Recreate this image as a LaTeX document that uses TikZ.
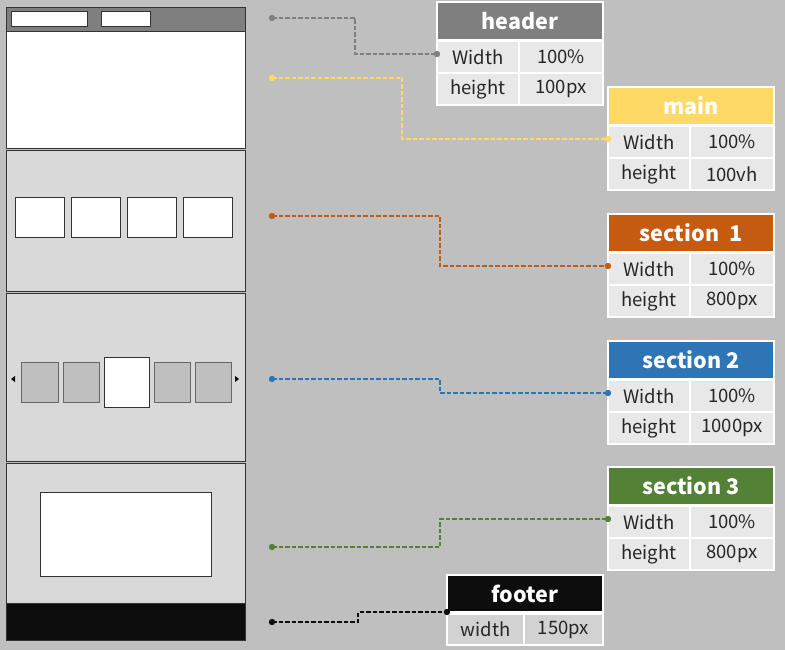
\documentclass[tikz,border=0pt]{standalone}
\usepackage{fontspec}
\setmainfont{Noto Sans CJK KR}
\usetikzlibrary{positioning}
\definecolor{bggray}{HTML}{BFBFBF}
\definecolor{hdgray}{HTML}{7F7F7F}
\definecolor{mainyellow}{HTML}{FFD966}
\definecolor{secorange}{HTML}{C55A11}
\definecolor{secblue}{HTML}{2E75B6}
\definecolor{secgreen}{HTML}{538135}
\definecolor{ftblack}{HTML}{0D0D0D}
\definecolor{cellgray}{HTML}{E8E8E8}
\definecolor{ftcell}{HTML}{D2D2D2}
\definecolor{secfill}{HTML}{D9D9D9}
\definecolor{slide}{HTML}{BFBFBF}
\begin{document}
\begin{tikzpicture}[x=1pt,y=-1pt,
    wire/.style={draw=black!80,line width=1pt},
    tabtitle/.style={draw=white,line width=1.2pt,outer sep=0pt,inner sep=0pt,
      minimum width=166pt,minimum height=38pt,text=white,font=\fontsize{21.5}{24}\selectfont\bfseries},
    tabcell/.style={draw=white,line width=1.2pt,outer sep=0pt,inner sep=0pt,fill=cellgray,
      minimum height=32pt,text=black!85,font=\fontsize{18.5}{20}\selectfont},
    keycell/.style={tabcell,minimum width=82pt},
    valcell/.style={tabcell,minimum width=84pt},
    link/.style={dashed,dash pattern=on 4.5pt off 2pt,line width=1.7pt},
    dot/.style={radius=3.2pt}]
  \useasboundingbox[fill=bggray] (0,0) rectangle (785,650);
  % Page mock-up
  \draw[wire,fill=hdgray] (6,8) rectangle (245,32);
  \draw[wire,fill=white] (11,12) rectangle (87,27);
  \draw[wire,fill=white] (101,12) rectangle (150,27);
  \draw[wire,fill=white] (6,32) rectangle (245,149);
  \draw[wire,fill=secfill] (6,151) rectangle (245,291);
  \draw[wire,fill=white] (15,198) rectangle (64,237);
  \draw[wire,fill=white] (71,198) rectangle (120,237);
  \draw[wire,fill=white] (127,198) rectangle (176,237);
  \draw[wire,fill=white] (183,198) rectangle (232,237);
  \draw[wire,fill=secfill] (6,293) rectangle (245,461);
  \draw[draw=black!60,fill=slide] (21,362) rectangle (58,402);
  \draw[draw=black!60,fill=slide] (63,362) rectangle (99,402);
  \draw[wire,fill=white] (104,357) rectangle (149,407);
  \draw[draw=black!60,fill=slide] (154,362) rectangle (190,402);
  \draw[draw=black!60,fill=slide] (195,362) rectangle (231,402);
  \fill (11,379) -- (15,376) -- (15,382) -- cycle;
  \fill (239,379) -- (235,376) -- (235,382) -- cycle;
  \draw[wire,fill=secfill] (6,463) rectangle (245,603);
  \draw[wire,fill=white] (40,492) rectangle (211,576);
  \draw[wire,fill=ftblack] (6,603) rectangle (245,640);
  % Tables
  \node[tabtitle,fill=hdgray,anchor=north west] (hdT) at (437,2) {header};
  \node[keycell,anchor=north west] (hdW) at (437,41) {Width};
  \node[valcell,right=0pt of hdW] (hdWv) {100\%};
  \node[keycell,below=0pt of hdW] (hdH) {height};
  \node[valcell,right=0pt of hdH] (hdHv) {100px};
  \node[tabtitle,fill=mainyellow,anchor=north west] (mnT) at (608,87) {main};
  \node[keycell,anchor=north west] (mnW) at (608,126) {Width};
  \node[valcell,right=0pt of mnW] (mnWv) {100\%};
  \node[keycell,below=0pt of mnW] (mnH) {height};
  \node[valcell,right=0pt of mnH] (mnHv) {100vh};
  \node[tabtitle,fill=secorange,anchor=north west] (s1T) at (608,214) {section\ \ 1};
  \node[keycell,anchor=north west] (s1W) at (608,253) {Width};
  \node[valcell,right=0pt of s1W] (s1Wv) {100\%};
  \node[keycell,below=0pt of s1W] (s1H) {height};
  \node[valcell,right=0pt of s1H] (s1Hv) {800px};
  \node[tabtitle,fill=secblue,anchor=north west] (s2T) at (608,341) {section 2};
  \node[keycell,anchor=north west] (s2W) at (608,380) {Width};
  \node[valcell,right=0pt of s2W] (s2Wv) {100\%};
  \node[keycell,below=0pt of s2W] (s2H) {height};
  \node[valcell,right=0pt of s2H] (s2Hv) {1000px};
  \node[tabtitle,fill=secgreen,anchor=north west] (s3T) at (608,467) {section 3};
  \node[keycell,anchor=north west] (s3W) at (608,506) {Width};
  \node[valcell,right=0pt of s3W] (s3Wv) {100\%};
  \node[keycell,below=0pt of s3W] (s3H) {height};
  \node[valcell,right=0pt of s3H] (s3Hv) {800px};
  \node[tabtitle,fill=ftblack,minimum width=156pt,minimum height=37pt,anchor=north west] (ftT) at (447,575) {footer};
  \node[keycell,fill=ftcell,minimum width=77pt,minimum height=31pt,anchor=north west] (ftW) at (447,614) {width};
  \node[valcell,fill=ftcell,minimum width=79pt,minimum height=31pt,right=0pt of ftW] (ftWv) {150px};
  % Links
  \coordinate (hdA) at (272,18);
  \coordinate (hdB) at (355,40);
  \coordinate (hdC) at ([yshift=3pt]hdW.west);
  \draw[link,hdgray] (hdA) -| (hdB) |- (hdC);
  \fill[hdgray] (hdA) circle[dot] (hdC) circle[dot];
  \coordinate (mnA) at (272,78);
  \coordinate (mnB) at (402,110);
  \coordinate (mnC) at ([yshift=3pt]mnW.west);
  \draw[link,mainyellow] (mnA) -| (mnB) |- (mnC);
  \fill[mainyellow] (mnA) circle[dot] (mnC) circle[dot];
  \coordinate (s1A) at (272,216);
  \coordinate (s1B) at (440,240);
  \coordinate (s1C) at ([yshift=3pt]s1W.west);
  \draw[link,secorange] (s1A) -| (s1B) |- (s1C);
  \fill[secorange] (s1A) circle[dot] (s1C) circle[dot];
  \coordinate (s2A) at (272,379);
  \coordinate (s2B) at (440,385);
  \coordinate (s2C) at ([yshift=3pt]s2W.west);
  \draw[link,secblue] (s2A) -| (s2B) |- (s2C);
  \fill[secblue] (s2A) circle[dot] (s2C) circle[dot];
  \coordinate (s3A) at (272,547);
  \coordinate (s3B) at (440,530);
  \coordinate (s3C) at ([yshift=3pt]s3W.west);
  \draw[link,secgreen] (s3A) -| (s3B) |- (s3C);
  \fill[secgreen] (s3A) circle[dot] (s3C) circle[dot];
  \coordinate (ftA) at (272,622);
  \coordinate (ftB) at (358,616);
  \draw[link,ftblack] (ftA) -| (ftB) |- (ftT.south west);
  \fill[ftblack] (ftA) circle[dot] (ftT.south west) circle[dot];
\end{tikzpicture}
\end{document}
